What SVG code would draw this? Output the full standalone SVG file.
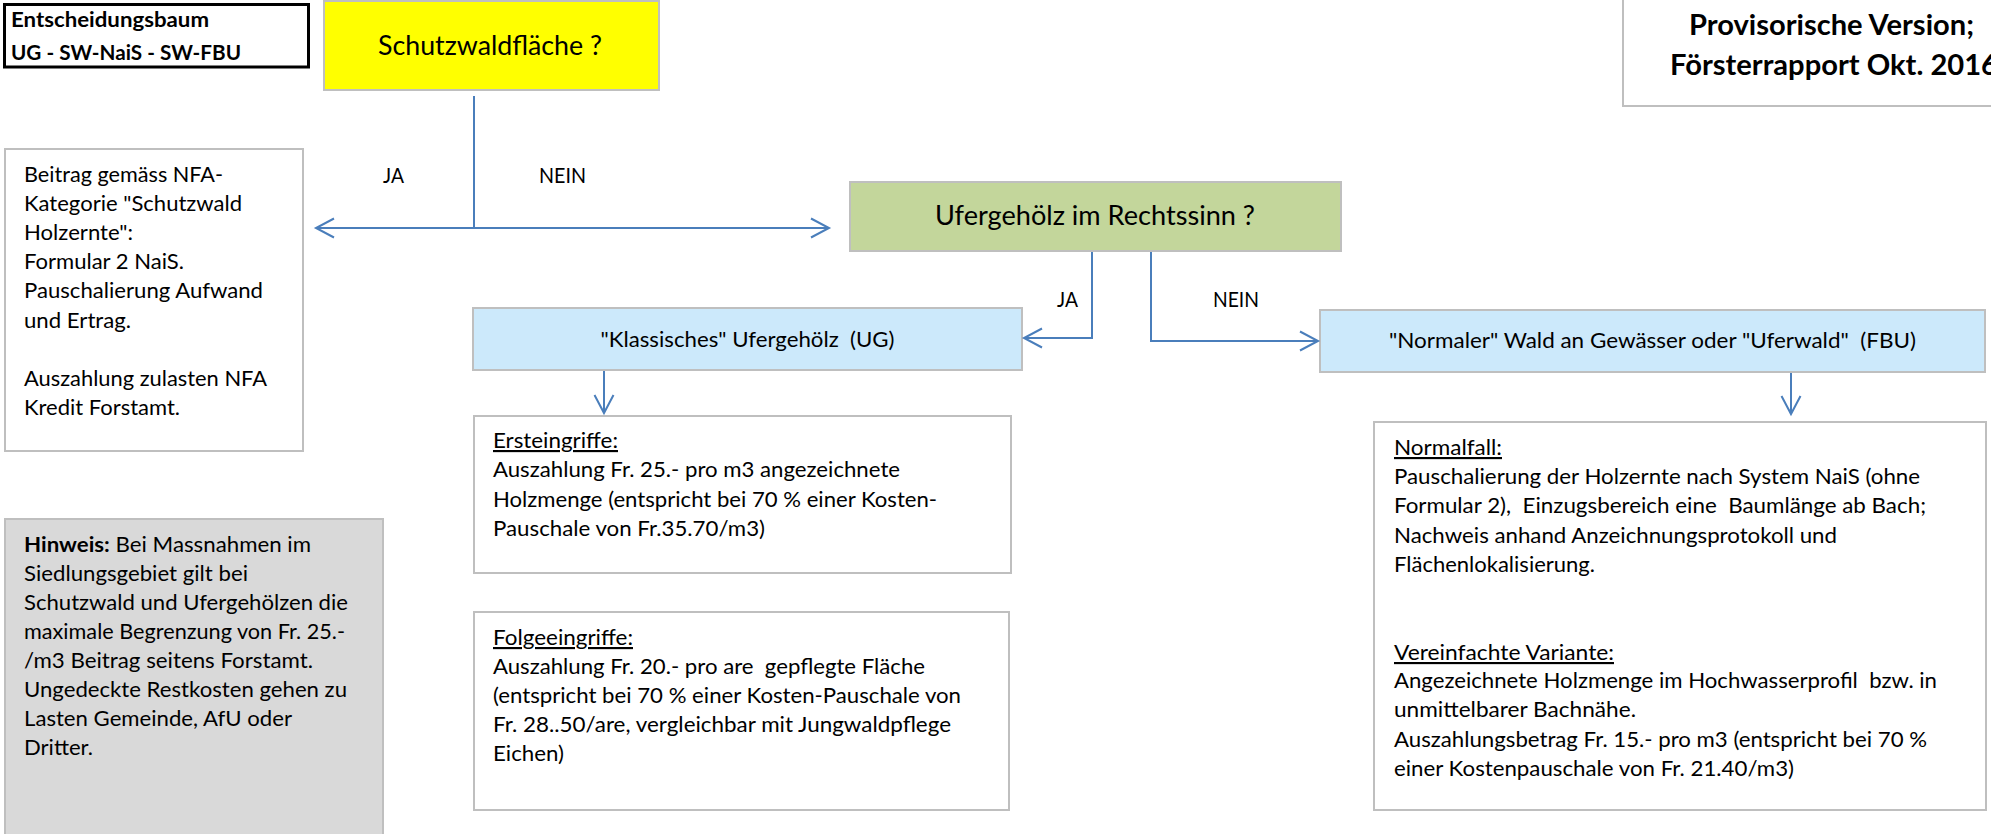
<svg xmlns="http://www.w3.org/2000/svg" width="1991" height="834" viewBox="0 0 1991 834">
<style>
.box{fill:#ffffff;stroke:#bfbfbf;stroke-width:2}
.t{font-family:Lato,"Liberation Sans",sans-serif;font-size:21.5px;fill:#000}
.b{font-weight:bold}
.big{font-size:26px}
.u{text-decoration:underline}
.c{stroke:#4a7ebb;stroke-width:2;fill:none}
</style>
<defs>
<marker id="arr" markerUnits="userSpaceOnUse" markerWidth="22" markerHeight="24" refX="19" refY="11" orient="auto">
<path d="M1,1.5 L19,11 L1,20.5" fill="none" stroke="#4a7ebb" stroke-width="2"/>
</marker>
</defs>
<rect width="1991" height="834" fill="#ffffff"/>

<g id="title">
<rect x="4.5" y="4.5" width="304" height="62.5" fill="#ffffff" stroke="#000" stroke-width="3"/>
<text class="t b" x="11" y="27" textLength="198" lengthAdjust="spacingAndGlyphs">Entscheidungsbaum</text>
<text class="t b" x="11" y="60" textLength="230" lengthAdjust="spacingAndGlyphs">UG - SW-NaiS - SW-FBU</text>
</g>

<g id="provisorisch">
<rect class="box" x="1623" y="-5" width="420" height="111"/>
<text class="t b" style="font-size:28px" x="1689" y="35" textLength="285" lengthAdjust="spacingAndGlyphs">Provisorische Version;</text>
<text class="t b" style="font-size:28px" x="1670" y="75" textLength="328" lengthAdjust="spacingAndGlyphs">Försterrapport Okt. 2016</text>
</g>

<g id="schutzwald">
<rect x="324" y="1" width="335" height="89" fill="#ffff00" stroke="#bfbfbf" stroke-width="2"/>
<text class="t big" x="490" y="55" text-anchor="middle" textLength="224" lengthAdjust="spacingAndGlyphs">Schutzwaldfläche ?</text>
</g>

<g id="nfa">
<rect class="box" x="5" y="149" width="298" height="302"/>
<text class="t" x="24" y="182" textLength="199" lengthAdjust="spacingAndGlyphs">Beitrag gemäss NFA-</text>
<text class="t" x="24" y="211" textLength="218" lengthAdjust="spacingAndGlyphs">Kategorie "Schutzwald</text>
<text class="t" x="24" y="240" textLength="109" lengthAdjust="spacingAndGlyphs">Holzernte":</text>
<text class="t" x="24" y="269" textLength="160" lengthAdjust="spacingAndGlyphs">Formular 2 NaiS.</text>
<text class="t" x="24" y="298" textLength="239" lengthAdjust="spacingAndGlyphs">Pauschalierung Aufwand</text>
<text class="t" x="24" y="328" textLength="107" lengthAdjust="spacingAndGlyphs">und Ertrag.</text>
<text class="t" x="24" y="386" textLength="243" lengthAdjust="spacingAndGlyphs">Auszahlung zulasten NFA</text>
<text class="t" x="24" y="415" textLength="156" lengthAdjust="spacingAndGlyphs">Kredit Forstamt.</text>
</g>

<g id="hinweis">
<rect x="5" y="519" width="378" height="325" fill="#d9d9d9" stroke="#bfbfbf" stroke-width="2"/>
<text class="t" x="24" y="552" textLength="287" lengthAdjust="spacingAndGlyphs"><tspan class="b">Hinweis:</tspan> Bei Massnahmen im</text>
<text class="t" x="24" y="581" textLength="224" lengthAdjust="spacingAndGlyphs">Siedlungsgebiet gilt bei</text>
<text class="t" x="24" y="610" textLength="324" lengthAdjust="spacingAndGlyphs">Schutzwald und Ufergehölzen die</text>
<text class="t" x="24" y="639" textLength="321" lengthAdjust="spacingAndGlyphs">maximale Begrenzung von Fr. 25.-</text>
<text class="t" x="24" y="668" textLength="289" lengthAdjust="spacingAndGlyphs">/m3 Beitrag seitens Forstamt.</text>
<text class="t" x="24" y="697" textLength="323" lengthAdjust="spacingAndGlyphs">Ungedeckte Restkosten gehen zu</text>
<text class="t" x="24" y="726" textLength="268" lengthAdjust="spacingAndGlyphs">Lasten Gemeinde, AfU oder</text>
<text class="t" x="24" y="755" textLength="69" lengthAdjust="spacingAndGlyphs">Dritter.</text>
</g>

<g id="ufergehoelz">
<rect x="850" y="182" width="491" height="69" fill="#c3d69b" stroke="#bfbfbf" stroke-width="2"/>
<text class="t big" x="1095" y="225" text-anchor="middle" textLength="320" lengthAdjust="spacingAndGlyphs">Ufergehölz im Rechtssinn ?</text>
</g>

<g id="ug">
<rect x="473" y="308" width="549" height="62" fill="#cce9fb" stroke="#bfbfbf" stroke-width="2"/>
<text class="t" xml:space="preserve" x="747.5" y="347" text-anchor="middle" textLength="294" lengthAdjust="spacingAndGlyphs">"Klassisches" Ufergehölz  (UG)</text>
</g>

<g id="fbu">
<rect x="1320" y="310" width="665" height="62" fill="#cce9fb" stroke="#bfbfbf" stroke-width="2"/>
<text class="t" xml:space="preserve" x="1652.5" y="348" text-anchor="middle" textLength="527" lengthAdjust="spacingAndGlyphs">"Normaler" Wald an Gewässer oder "Uferwald"  (FBU)</text>
</g>

<g id="ersteingriffe">
<rect class="box" x="474" y="416" width="537" height="157"/>
<text class="t u" x="493" y="448" textLength="125" lengthAdjust="spacingAndGlyphs">Ersteingriffe:</text>
<text class="t" x="493" y="477" textLength="407" lengthAdjust="spacingAndGlyphs">Auszahlung Fr. 25.- pro m3 angezeichnete</text>
<text class="t" x="493" y="507" textLength="444" lengthAdjust="spacingAndGlyphs">Holzmenge (entspricht bei 70 % einer Kosten-</text>
<text class="t" x="493" y="536" textLength="272" lengthAdjust="spacingAndGlyphs">Pauschale von Fr.35.70/m3)</text>
</g>

<g id="folgeeingriffe">
<rect class="box" x="474" y="612" width="535" height="198"/>
<text class="t u" x="493" y="645" textLength="140" lengthAdjust="spacingAndGlyphs">Folgeeingriffe:</text>
<text class="t" xml:space="preserve" x="493" y="674" textLength="432" lengthAdjust="spacingAndGlyphs">Auszahlung Fr. 20.- pro are  gepflegte Fläche</text>
<text class="t" x="493" y="703" textLength="468" lengthAdjust="spacingAndGlyphs">(entspricht bei 70 % einer Kosten-Pauschale von</text>
<text class="t" x="493" y="732" textLength="458" lengthAdjust="spacingAndGlyphs">Fr. 28..50/are, vergleichbar mit Jungwaldpflege</text>
<text class="t" x="493" y="761" textLength="71" lengthAdjust="spacingAndGlyphs">Eichen)</text>
</g>

<g id="fbu-details">
<rect class="box" x="1374" y="422" width="612" height="388"/>
<text class="t u" x="1394" y="455" textLength="108" lengthAdjust="spacingAndGlyphs">Normalfall:</text>
<text class="t" x="1394" y="484" textLength="526" lengthAdjust="spacingAndGlyphs">Pauschalierung der Holzernte nach System NaiS (ohne</text>
<text class="t" xml:space="preserve" x="1394" y="513" textLength="532" lengthAdjust="spacingAndGlyphs">Formular 2),  Einzugsbereich eine  Baumlänge ab Bach;</text>
<text class="t" x="1394" y="543" textLength="443" lengthAdjust="spacingAndGlyphs">Nachweis anhand Anzeichnungsprotokoll und</text>
<text class="t" x="1394" y="572" textLength="201" lengthAdjust="spacingAndGlyphs">Flächenlokalisierung.</text>
<text class="t u" x="1394" y="660" textLength="220" lengthAdjust="spacingAndGlyphs">Vereinfachte Variante:</text>
<text class="t" xml:space="preserve" x="1394" y="688" textLength="543" lengthAdjust="spacingAndGlyphs">Angezeichnete Holzmenge im Hochwasserprofil  bzw. in</text>
<text class="t" x="1394" y="717" textLength="242" lengthAdjust="spacingAndGlyphs">unmittelbarer Bachnähe.</text>
<text class="t" x="1394" y="747" textLength="533" lengthAdjust="spacingAndGlyphs">Auszahlungsbetrag Fr. 15.- pro m3 (entspricht bei 70 %</text>
<text class="t" x="1394" y="776" textLength="400" lengthAdjust="spacingAndGlyphs">einer Kostenpauschale von Fr. 21.40/m3)</text>
</g>

<g id="connectors">
<path class="c" d="M474,96 V228 H316" marker-end="url(#arr)"/>
<path class="c" d="M474,228 H829" marker-end="url(#arr)"/>
<path class="c" d="M1092,252 V338 H1024" marker-end="url(#arr)"/>
<path class="c" d="M1151,252 V341 H1318" marker-end="url(#arr)"/>
<path class="c" d="M604,371 V413" marker-end="url(#arr)"/>
<path class="c" d="M1791,373 V414" marker-end="url(#arr)"/>
<text class="t" x="383" y="183" textLength="21" lengthAdjust="spacingAndGlyphs">JA</text>
<text class="t" x="539" y="183" textLength="47" lengthAdjust="spacingAndGlyphs">NEIN</text>
<text class="t" x="1057" y="307" textLength="21" lengthAdjust="spacingAndGlyphs">JA</text>
<text class="t" x="1213" y="307" textLength="46" lengthAdjust="spacingAndGlyphs">NEIN</text>
</g>
</svg>
